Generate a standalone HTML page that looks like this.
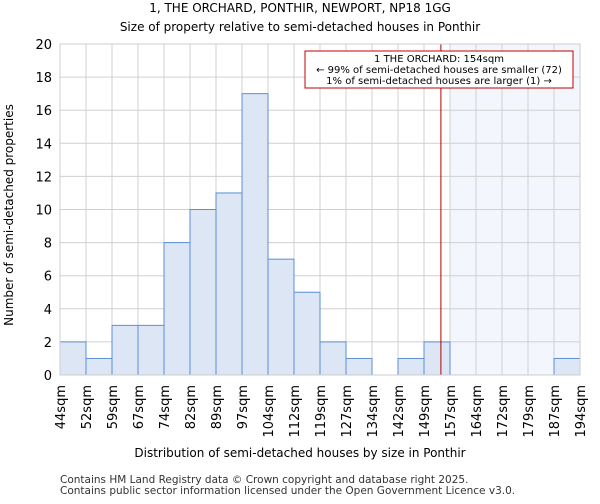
<!DOCTYPE html>
<html><head><meta charset="utf-8"><style>
body{margin:0;background:#fff;font-family:"DejaVu Sans","Liberation Sans",sans-serif;}
</style></head><body>
<svg id="c" width="600" height="500" style="font-family:'DejaVu Sans','Liberation Sans',sans-serif">
<text x="300" y="12" font-size="12" text-anchor="middle">1, THE ORCHARD, PONTHIR, NEWPORT, NP18 1GG</text>
<text x="300" y="31" font-size="12" text-anchor="middle">Size of property relative to semi-detached houses in Ponthir</text>
<g id="grid"></g><g id="bars"></g><g id="axes"></g>
<text x="300" y="457" font-size="12" text-anchor="middle">Distribution of semi-detached houses by size in Ponthir</text>
<text transform="translate(13,215) rotate(-90)" font-size="12" text-anchor="middle">Number of semi-detached properties</text>
<text x="60" y="483" font-size="10.5" fill="#333">Contains HM Land Registry data © Crown copyright and database right 2025.</text>
<text x="60" y="494" font-size="10.5" fill="#333">Contains public sector information licensed under the Open Government Licence v3.0.</text>
</svg>
<script>
const labels=["44sqm","52sqm","59sqm","67sqm","74sqm","82sqm","89sqm","97sqm","104sqm","112sqm","119sqm","127sqm","134sqm","142sqm","149sqm","157sqm","164sqm","172sqm","179sqm","187sqm","194sqm"];
const counts=[2,1,3,3,8,10,11,17,7,5,2,1,0,1,2,0,0,0,0,1];
const yTicks=[0,2,4,6,8,10,12,14,16,18,20];
const propertyBin=14.65;
const highlightFrom=15;
const NS="http://www.w3.org/2000/svg";
const L=60,R=580,T=44,B=375;
const bw=(R-L)/counts.length;
const x=i=>L+i*bw, y=v=>B-(v/20)*(B-T);
function mk(p,t,a){const e=document.createElementNS(NS,t);for(const k in a)e.setAttribute(k,a[k]);document.getElementById(p).appendChild(e);return e;}
let e=mk('grid','rect',{x:x(highlightFrom),y:T,width:R-x(highlightFrom),height:B-T,fill:'#f4f6fd'});


yTicks.forEach(v=>{let g=mk('grid','line',{x1:L,x2:R,y1:y(v),y2:y(v),stroke:'#d0d0d0'});


let t=mk('axes','text',{x:L-8,y:y(v)+5,'font-size':13,'text-anchor':'end'});t.textContent=v;

});
labels.forEach((s,i)=>{let g=mk('grid','line',{x1:x(i),x2:x(i),y1:T,y2:B,stroke:'#d0d0d0'});


let t=mk('axes','text',{transform:`translate(${x(i)+5},${B+10}) rotate(-90)`,'font-size':13,'text-anchor':'end'});t.textContent=s;

});
counts.forEach((v,i)=>{if(!v)return;let r=mk('bars','rect',{x:x(i),y:y(v),width:bw,height:B-y(v),fill:'#dce6f4',stroke:'#5b8fd6','stroke-width':1});

});
let pl=mk('axes','line',{x1:x(propertyBin),x2:x(propertyBin),y1:T,y2:B,stroke:'#b00000','stroke-width':1});


let ax=mk('axes','rect',{x:L,y:T,width:R-L,height:B-T,fill:'none',stroke:'#ccc'});


let bx=mk('axes','rect',{x:305,y:51,width:268,height:37,fill:'#fff',stroke:'#c00000'});


["1 THE ORCHARD: 154sqm","← 99% of semi-detached houses are smaller (72)","1% of semi-detached houses are larger (1) →"].forEach((s,i)=>{let t=mk('axes','text',{x:439,y:62+i*11,'font-size':10,'text-anchor':'middle'});t.textContent=s;

});
</script></body></html>
